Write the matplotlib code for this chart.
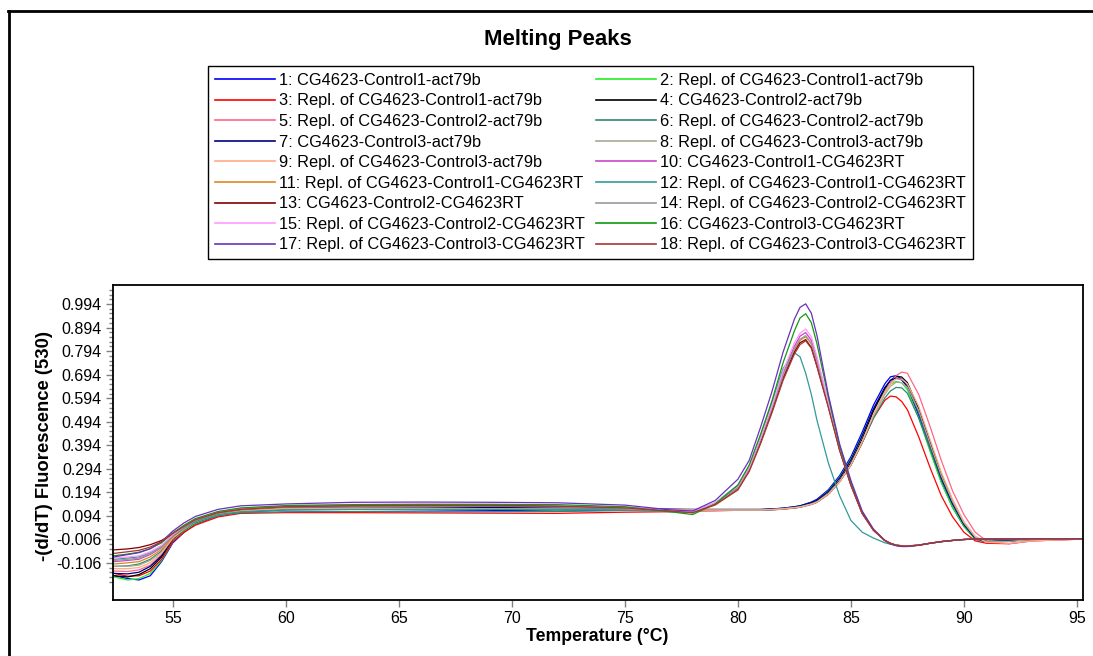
import matplotlib
matplotlib.use("Agg")
import matplotlib.pyplot as plt
from matplotlib.lines import Line2D
from matplotlib.ticker import FixedLocator, FormatStrFormatter

plt.rcParams['font.family'] = ['Liberation Sans', 'DejaVu Sans']

# temperature grid the curves were read at
temps = [52.4, 53.0, 53.5, 54.0, 54.5, 55.0, 55.5, 56.0, 57.0, 58.0,
         60.0, 63.0, 66.0, 69.0, 72.0, 75.0, 77.0, 78.0,
         79.0, 80.0, 80.5, 81.0, 81.5, 82.0, 82.5, 82.75, 83.0, 83.25, 83.5,
         84.0, 84.5, 85.0, 85.5, 86.0, 86.5, 86.75, 87.0, 87.25, 87.5,
         88.0, 88.5, 89.0, 89.5, 90.0, 90.5, 91.0, 92.0, 93.0, 95.3]

labels = [
    "1: CG4623-Control1-act79b",
    "2: Repl. of CG4623-Control1-act79b",
    "3: Repl. of CG4623-Control1-act79b",
    "4: CG4623-Control2-act79b",
    "5: Repl. of CG4623-Control2-act79b",
    "6: Repl. of CG4623-Control2-act79b",
    "7: CG4623-Control3-act79b",
    "8: Repl. of CG4623-Control3-act79b",
    "9: Repl. of CG4623-Control3-act79b",
    "10: CG4623-Control1-CG4623RT",
    "11: Repl. of CG4623-Control1-CG4623RT",
    "12: Repl. of CG4623-Control1-CG4623RT",
    "13: CG4623-Control2-CG4623RT",
    "14: Repl. of CG4623-Control2-CG4623RT",
    "15: Repl. of CG4623-Control2-CG4623RT",
    "16: CG4623-Control3-CG4623RT",
    "17: Repl. of CG4623-Control3-CG4623RT",
    "18: Repl. of CG4623-Control3-CG4623RT",
]

colors = ['#0000ff', '#22ee22', '#ff0000', '#000000', '#ff6688', '#2e8b72',
          '#000080', '#a3ab92', '#ffaa88', '#cc44cc', '#dd8822', '#339999',
          '#800000', '#999999', '#ff99ff', '#119911', '#6633bb', '#aa3333']

s1 = [-0.16, -0.172, -0.178, -0.16, -0.10, -0.02, 0.025, 0.06, 0.095, 0.11,
      0.12, 0.122, 0.12, 0.118, 0.115, 0.118, 0.118, 0.118,
      0.118, 0.12, 0.12, 0.121, 0.123, 0.127, 0.133, 0.137, 0.145, 0.153, 0.165,
      0.205, 0.265, 0.345, 0.45, 0.565, 0.655, 0.685, 0.69, 0.675, 0.64,
      0.52, 0.375, 0.24, 0.13, 0.05, -0.005, -0.016, -0.012, -0.006, -0.003]
s2 = [-0.165, -0.178, -0.172, -0.15, -0.095, -0.015, 0.03, 0.062, 0.097, 0.112,
      0.122, 0.125, 0.124, 0.122, 0.12, 0.12, 0.118, 0.118,
      0.118, 0.12, 0.12, 0.12, 0.122, 0.126, 0.132, 0.136, 0.143, 0.15, 0.16,
      0.2, 0.258, 0.335, 0.435, 0.545, 0.63, 0.655, 0.665, 0.66, 0.63,
      0.51, 0.37, 0.235, 0.13, 0.05, -0.004, -0.016, -0.012, -0.006, -0.003]
s3 = [-0.15, -0.162, -0.16, -0.14, -0.09, -0.015, 0.025, 0.055, 0.09, 0.105,
      0.108, 0.108, 0.107, 0.106, 0.105, 0.11, 0.112, 0.115,
      0.116, 0.118, 0.118, 0.118, 0.12, 0.123, 0.128, 0.132, 0.138, 0.145, 0.153,
      0.188, 0.24, 0.31, 0.405, 0.51, 0.585, 0.603, 0.6, 0.58, 0.545,
      0.43, 0.3, 0.18, 0.09, 0.025, -0.012, -0.022, -0.024, -0.012, -0.004]
s4 = [-0.16, -0.165, -0.155, -0.13, -0.08, -0.005, 0.035, 0.068, 0.1, 0.115,
      0.125, 0.126, 0.125, 0.124, 0.122, 0.122, 0.12, 0.12,
      0.12, 0.12, 0.12, 0.12, 0.122, 0.125, 0.13, 0.133, 0.14, 0.146, 0.155,
      0.19, 0.245, 0.32, 0.42, 0.54, 0.635, 0.67, 0.688, 0.684, 0.66,
      0.55, 0.41, 0.27, 0.155, 0.065, 0.0, -0.015, -0.012, -0.006, -0.003]
s5 = [-0.14, -0.142, -0.135, -0.115, -0.07, -0.002, 0.037, 0.07, 0.102, 0.117,
      0.127, 0.13, 0.13, 0.128, 0.125, 0.124, 0.122, 0.12,
      0.12, 0.12, 0.12, 0.12, 0.121, 0.124, 0.128, 0.131, 0.137, 0.143, 0.152,
      0.185, 0.238, 0.31, 0.405, 0.52, 0.62, 0.66, 0.69, 0.705, 0.7,
      0.61, 0.475, 0.33, 0.2, 0.1, 0.025, -0.012, -0.024, -0.012, -0.004]
s6 = [-0.12, -0.118, -0.11, -0.09, -0.055, 0.0, 0.035, 0.065, 0.095, 0.108,
      0.112, 0.113, 0.112, 0.112, 0.113, 0.118, 0.118, 0.118,
      0.118, 0.118, 0.118, 0.118, 0.12, 0.123, 0.128, 0.131, 0.137, 0.143, 0.152,
      0.186, 0.24, 0.31, 0.405, 0.51, 0.595, 0.625, 0.64, 0.638, 0.615,
      0.51, 0.38, 0.25, 0.145, 0.06, 0.002, -0.014, -0.012, -0.006, -0.003]
s7 = [-0.15, -0.152, -0.145, -0.12, -0.075, 0.0, 0.04, 0.072, 0.105, 0.12,
      0.13, 0.132, 0.132, 0.13, 0.128, 0.126, 0.123, 0.122,
      0.122, 0.122, 0.122, 0.122, 0.124, 0.127, 0.133, 0.137, 0.144, 0.151, 0.161,
      0.198, 0.255, 0.332, 0.435, 0.55, 0.64, 0.67, 0.68, 0.672, 0.645,
      0.535, 0.395, 0.255, 0.145, 0.058, 0.0, -0.015, -0.012, -0.006, -0.003]
s8 = [-0.12, -0.12, -0.115, -0.095, -0.06, 0.003, 0.04, 0.07, 0.103, 0.117,
      0.127, 0.128, 0.127, 0.125, 0.124, 0.122, 0.12, 0.12,
      0.12, 0.12, 0.12, 0.12, 0.122, 0.125, 0.13, 0.133, 0.139, 0.145, 0.154,
      0.188, 0.24, 0.312, 0.41, 0.52, 0.61, 0.645, 0.662, 0.66, 0.64,
      0.54, 0.4, 0.265, 0.155, 0.065, 0.004, -0.016, -0.014, -0.007, -0.003]
s9 = [-0.13, -0.13, -0.125, -0.105, -0.065, 0.0, 0.038, 0.07, 0.1, 0.115,
      0.124, 0.126, 0.125, 0.124, 0.122, 0.122, 0.12, 0.119,
      0.119, 0.119, 0.119, 0.119, 0.121, 0.124, 0.129, 0.132, 0.138, 0.144, 0.153,
      0.187, 0.24, 0.312, 0.41, 0.525, 0.618, 0.655, 0.676, 0.675, 0.655,
      0.56, 0.42, 0.28, 0.165, 0.07, 0.008, -0.018, -0.022, -0.012, -0.004]
s10 = [-0.1, -0.095, -0.09, -0.07, -0.04, 0.01, 0.045, 0.075, 0.108, 0.122,
       0.135, 0.14, 0.142, 0.14, 0.138, 0.13, 0.118, 0.112,
       0.148, 0.215, 0.295, 0.42, 0.555, 0.7, 0.815, 0.858, 0.873, 0.84, 0.76,
       0.575, 0.38, 0.23, 0.107, 0.034, -0.01, -0.023, -0.031, -0.034, -0.034,
       -0.03, -0.022, -0.015, -0.01, -0.006, -0.004, -0.004, -0.004, -0.003, -0.003]
s11 = [-0.11, -0.105, -0.1, -0.08, -0.048, 0.006, 0.043, 0.073, 0.105, 0.12,
       0.132, 0.136, 0.137, 0.136, 0.135, 0.128, 0.116, 0.11,
       0.14, 0.205, 0.285, 0.405, 0.54, 0.685, 0.8, 0.84, 0.855, 0.825, 0.745,
       0.565, 0.378, 0.228, 0.106, 0.034, -0.01, -0.022, -0.03, -0.033, -0.034,
       -0.03, -0.022, -0.015, -0.01, -0.006, -0.004, -0.004, -0.004, -0.003, -0.003]
s12 = [-0.09, -0.085, -0.08, -0.062, -0.035, 0.01, 0.042, 0.07, 0.1, 0.112,
       0.12, 0.122, 0.122, 0.122, 0.122, 0.12, 0.112, 0.11,
       0.15, 0.225, 0.305, 0.43, 0.575, 0.72, 0.787, 0.77, 0.70, 0.61, 0.50,
       0.32, 0.18, 0.075, 0.025, 0.0, -0.02, -0.026, -0.03, -0.032, -0.033,
       -0.03, -0.022, -0.015, -0.01, -0.006, -0.004, -0.004, -0.004, -0.003, -0.003]
s13 = [-0.05, -0.046, -0.04, -0.028, -0.01, 0.018, 0.048, 0.076, 0.108, 0.122,
       0.133, 0.138, 0.14, 0.14, 0.138, 0.13, 0.116, 0.108,
       0.145, 0.21, 0.29, 0.41, 0.54, 0.68, 0.79, 0.83, 0.843, 0.81, 0.73,
       0.56, 0.375, 0.225, 0.105, 0.033, -0.01, -0.022, -0.03, -0.033, -0.034,
       -0.03, -0.022, -0.015, -0.01, -0.006, -0.004, -0.004, -0.004, -0.003, -0.003]
s14 = [-0.095, -0.09, -0.085, -0.065, -0.037, 0.012, 0.046, 0.075, 0.107, 0.122,
       0.132, 0.136, 0.136, 0.135, 0.133, 0.127, 0.115, 0.108,
       0.145, 0.212, 0.292, 0.415, 0.548, 0.69, 0.805, 0.845, 0.86, 0.828, 0.748,
       0.568, 0.378, 0.228, 0.106, 0.034, -0.01, -0.022, -0.03, -0.033, -0.034,
       -0.03, -0.022, -0.015, -0.01, -0.006, -0.004, -0.004, -0.004, -0.003, -0.003]
s15 = [-0.085, -0.08, -0.075, -0.058, -0.03, 0.015, 0.05, 0.08, 0.112, 0.127,
       0.138, 0.143, 0.145, 0.144, 0.14, 0.132, 0.118, 0.112,
       0.15, 0.22, 0.3, 0.425, 0.56, 0.71, 0.83, 0.87, 0.888, 0.855, 0.77,
       0.58, 0.385, 0.232, 0.108, 0.034, -0.01, -0.023, -0.031, -0.034, -0.034,
       -0.03, -0.022, -0.015, -0.01, -0.006, -0.004, -0.004, -0.004, -0.003, -0.003]
s16 = [-0.075, -0.068, -0.06, -0.045, -0.02, 0.022, 0.055, 0.083, 0.113, 0.128,
       0.138, 0.142, 0.143, 0.143, 0.142, 0.133, 0.112, 0.1,
       0.145, 0.225, 0.31, 0.44, 0.58, 0.745, 0.88, 0.935, 0.953, 0.915, 0.825,
       0.6, 0.39, 0.235, 0.11, 0.035, -0.01, -0.024, -0.032, -0.035, -0.035,
       -0.03, -0.022, -0.015, -0.01, -0.006, -0.004, -0.004, -0.004, -0.003, -0.003]
s17 = [-0.08, -0.07, -0.062, -0.045, -0.015, 0.03, 0.065, 0.092, 0.122, 0.137,
       0.145, 0.152, 0.153, 0.152, 0.15, 0.14, 0.12, 0.115,
       0.16, 0.25, 0.33, 0.47, 0.62, 0.79, 0.93, 0.98, 0.995, 0.955, 0.86,
       0.61, 0.4, 0.245, 0.115, 0.038, -0.01, -0.025, -0.032, -0.036, -0.036,
       -0.031, -0.022, -0.015, -0.01, -0.006, -0.004, -0.004, -0.004, -0.003, -0.003]
s18 = [-0.065, -0.058, -0.052, -0.038, -0.015, 0.02, 0.05, 0.078, 0.108, 0.122,
       0.133, 0.137, 0.138, 0.137, 0.135, 0.128, 0.115, 0.108,
       0.142, 0.205, 0.283, 0.4, 0.53, 0.67, 0.782, 0.822, 0.838, 0.806, 0.728,
       0.555, 0.372, 0.224, 0.104, 0.033, -0.01, -0.022, -0.03, -0.033, -0.034,
       -0.03, -0.022, -0.015, -0.01, -0.006, -0.004, -0.004, -0.004, -0.003, -0.003]

series = [s1, s2, s3, s4, s5, s6, s7, s8, s9,
          s10, s11, s12, s13, s14, s15, s16, s17, s18]

yticks = [-0.106, -0.006, 0.094, 0.194, 0.294, 0.394, 0.494, 0.594,
          0.694, 0.794, 0.894, 0.994]
xticks = [55, 60, 65, 70, 75, 80, 85, 90, 95]

fig = plt.figure(figsize=(10.93, 6.56), dpi=100)
ax = fig.add_axes([113/1093, 1-600/656, 970/1093, 315/656])

handles = []
for vals, c, lab in zip(series, colors, labels):
    h, = ax.plot(temps, vals, color=c, lw=0.9, label=lab)
    handles.append(h)

ax.set_xlim(52.35, 95.27)
ax.set_ylim(-0.263, 1.075)
ax.xaxis.set_major_locator(FixedLocator(xticks))
ax.yaxis.set_major_locator(FixedLocator(yticks))
minor = [round(-0.186 + 0.02*i, 3) for i in range(63)]
minor = [m for m in minor if min(abs(m - t) for t in yticks) > 0.005]
ax.yaxis.set_minor_locator(FixedLocator(minor))
ax.yaxis.set_major_formatter(FormatStrFormatter('%.3f'))
ax.tick_params(axis='both', which='major', length=5, width=1, color='#808080',
               labelsize=11.5, pad=3)
ax.tick_params(axis='y', which='minor', length=3, width=1, color='#808080')
for sp in ax.spines.values():
    sp.set_linewidth(1.3)
    sp.set_color('black')

ax.set_xlabel("Temperature (°C)", fontsize=12.7, fontweight='bold')
ax.xaxis.set_label_coords(0.499, -0.09)
ax.set_ylabel("-(d/dT) Fluorescence (530)", fontsize=13.3, fontweight='bold')
ax.yaxis.set_label_coords(-0.062, 0.49)

fig.text(0.51, 1-40/656, "Melting Peaks", fontsize=16, fontweight='bold',
         ha='center', va='center')

# row-major order: odd entries in first column, even in second
order = list(range(0, 18, 2)) + list(range(1, 18, 2))
leg = fig.legend([handles[i] for i in order], [labels[i] for i in order],
                 ncol=2, loc='upper left', bbox_to_anchor=(208/1093, 1-66/656),
                 borderaxespad=0, fontsize=11.8, handlelength=3.65, handletextpad=0.25,
                 columnspacing=0.7, labelspacing=0.34, borderpad=0.42,
                 fancybox=False, framealpha=1, edgecolor='black')
leg.get_frame().set_linewidth(1.0)
for ln in leg.get_lines():
    ln.set_linewidth(1.2)

# outer frame (top and left edges only)
fig.add_artist(Line2D([8/1093, 1], [1-11/656, 1-11/656], color='black', lw=2,
                      transform=fig.transFigure))
fig.add_artist(Line2D([9/1093, 9/1093], [0, 1-11/656], color='black', lw=2,
                      transform=fig.transFigure))

fig.savefig("out.png", dpi=100)
